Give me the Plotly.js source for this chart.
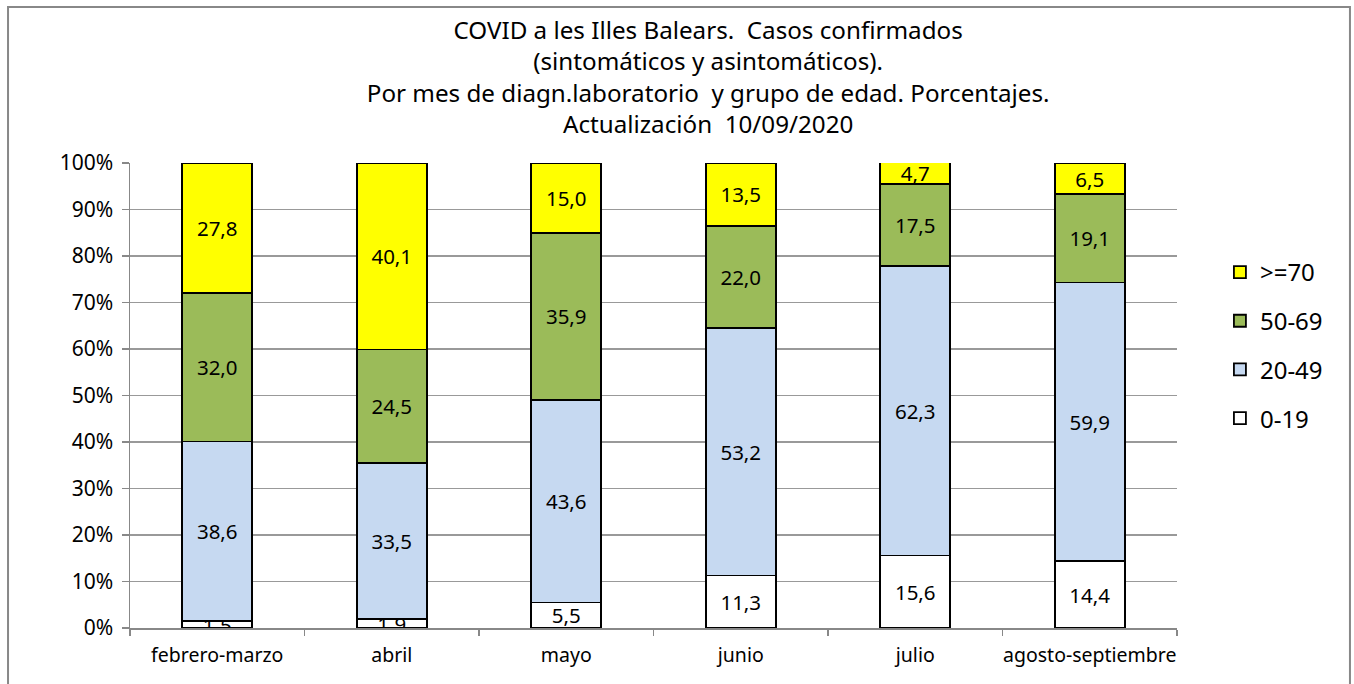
<!DOCTYPE html>
<html><head><meta charset="utf-8">
<script src="https://cdn.plot.ly/plotly-3.0.1.min.js"></script>
<style>html,body{margin:0;padding:0;background:#fff}#chart{width:1354px;height:684px}</style>
</head><body><div id="chart"></div>
<script>
var categories = ['febrero-marzo','abril','mayo','junio','julio','agosto-septiembre'];
var age0_19  = [1.5, 1.9, 5.5, 11.3, 15.6, 14.4];
var age20_49 = [38.6, 33.5, 43.6, 53.2, 62.3, 59.9];
var age50_69 = [32.0, 24.5, 35.9, 22.0, 17.5, 19.1];
var age70    = [27.8, 40.1, 15.0, 13.5, 4.7, 6.5];
var seriesNames = ['0-19','20-49','50-69','>=70'];
var seriesColors = ['#ffffff','#c6d9f1','#9bbb59','#ffff00'];
var seriesValues = [age0_19, age20_49, age50_69, age70];

function fmt(v){ return v.toFixed(1).replace('.', ','); }

var FONT = 'Noto Sans, DejaVu Sans, sans-serif';
var traces = seriesValues.map(function(vals, i){
  return {
    type:'bar', x:categories, y:vals, name:seriesNames[i],
    legendgroup:'g'+i, legendrank: 10 - i,
    marker:{color:seriesColors[i], line:{color:'#000', width:1.8}},
    text: vals.map(fmt), textposition:'inside', insidetextanchor:'middle',
    textangle:0, constraintext:'none',
    textfont:{family:FONT, size:20.5, color:'#000'},
    hoverinfo:'skip'
  };
});

var layout = {
  width:1354, height:684,
  margin:{l:130, r:177, t:163, b:56},
  paper_bgcolor:'#fff', plot_bgcolor:'#fff',
  barmode:'stack', bargap:0.6,
  uniformtext:{mode:'show', minsize:20.5},
  font:{family:FONT, color:'#000'},
  title:{text:'COVID a les Illes Balears.  Casos confirmados<br>(sintomáticos y asintomáticos).<br>Por mes de diagn.laboratorio  y grupo de edad. Porcentajes.<br>Actualización  10/09/2020',
    font:{family:FONT, size:24.2, color:'#000'}, x:0.523, xref:'container', xanchor:'center', y:0.943, yref:'container', yanchor:'top'},
  xaxis:{type:'category', showgrid:false, showline:true, linecolor:'#888', linewidth:1.5,
    ticks:'outside', tickson:'boundaries', ticklen:6, tickcolor:'#888', tickwidth:1.5,
    tickangle:0, automargin:false, ticklabelstandoff:9,
    tickfont:{family:FONT, size:19.5, color:'#000'}},
  yaxis:{range:[0,100], dtick:10, ticksuffix:'%', showgrid:true, gridcolor:'#999', gridwidth:1.5,
    showline:true, linecolor:'#888', linewidth:1.5, ticks:'outside', ticklen:7, tickcolor:'#888', tickwidth:1.5,
    ticklabelstandoff:4,
    tickfont:{family:FONT, size:21, color:'#000'}, zeroline:false},
  legend:{x:1.041, xanchor:'left', y:0.813, yanchor:'top', traceorder:'grouped', tracegroupgap:14.5,
    font:{family:FONT, size:24, color:'#000'}, itemwidth:30},
  shapes:[{type:'rect', xref:'paper', yref:'paper', x0:-0.1165, x1:1.1652, y0:-0.2, y1:1.3355,
    line:{color:'#888', width:2}, fillcolor:'rgba(0,0,0,0)', layer:'below'}]
};
Plotly.newPlot('chart', traces, layout, {displayModeBar:false, staticPlot:true});
</script></body></html>
